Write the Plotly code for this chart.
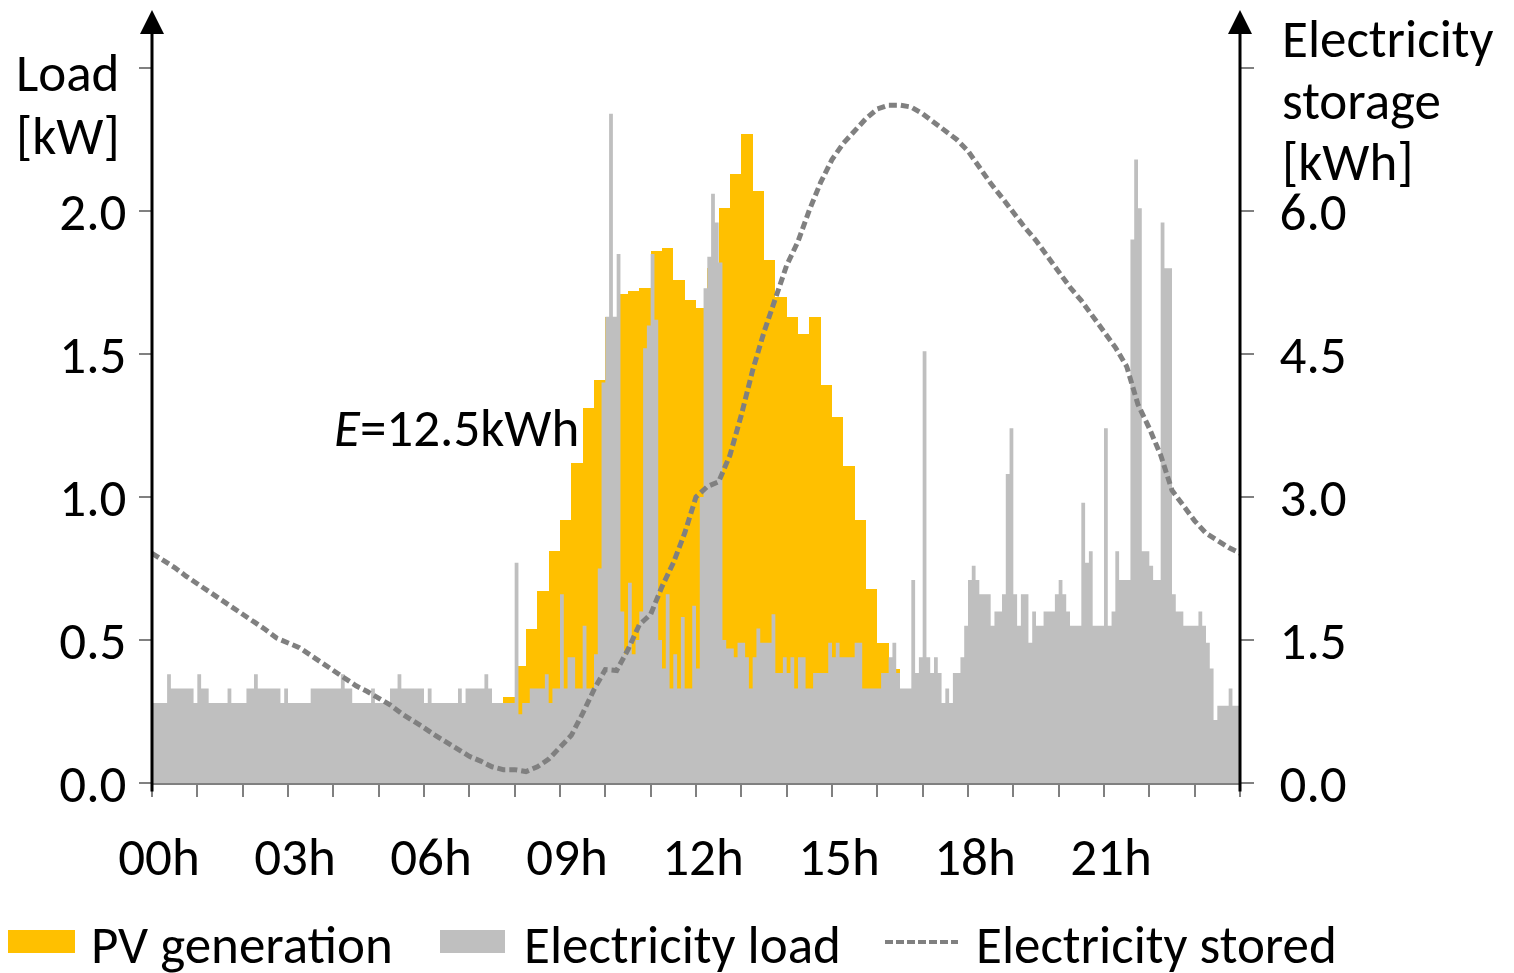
import numpy as np
import plotly.graph_objects as go

# ---------------- data ----------------
# PV generation [kW], 15-minute averages (96 values, 00:00-24:00)
pv_kw = [0.0] * 31 + [
    0.30, 0.41, 0.54, 0.67, 0.81, 0.92, 1.12, 1.31, 1.41,
    1.63, 1.71, 1.72, 1.73, 1.86, 1.87, 1.76, 1.69, 1.66, 1.80,
    2.01, 2.13, 2.27, 2.07, 1.83, 1.70, 1.63, 1.57, 1.63, 1.39,
    1.28, 1.11, 0.92, 0.68, 0.49, 0.40,
] + [0.0] * 30

# Electricity load [kW], 5-minute samples (289 values, 00:00-24:00)
load_kw = [
    0.28, 0.28, 0.28, 0.28, 0.38, 0.33, 0.33, 0.33, 0.33, 0.33, 0.33, 0.28,
    0.38, 0.33, 0.33, 0.28, 0.28, 0.28, 0.28, 0.28, 0.33, 0.28, 0.28, 0.28,
    0.28, 0.33, 0.33, 0.38, 0.33, 0.33, 0.33, 0.33, 0.33, 0.33, 0.28, 0.33,
    0.28, 0.28, 0.28, 0.28, 0.28, 0.28, 0.33, 0.33, 0.33, 0.33, 0.33, 0.33,
    0.33, 0.33, 0.38, 0.33, 0.33, 0.28, 0.28, 0.28, 0.28, 0.28, 0.33, 0.28,
    0.28, 0.28, 0.28, 0.33, 0.33, 0.38, 0.33, 0.33, 0.33, 0.33, 0.33, 0.33,
    0.28, 0.33, 0.28, 0.28, 0.28, 0.28, 0.28, 0.28, 0.28, 0.33, 0.28, 0.33,
    0.33, 0.33, 0.33, 0.33, 0.38, 0.33, 0.28, 0.28, 0.28, 0.28, 0.28, 0.28,
    0.77, 0.24, 0.28, 0.28, 0.33, 0.33, 0.33, 0.33, 0.38, 0.28, 0.33, 0.33,
    0.66, 0.33, 0.44, 0.44, 0.33, 0.33, 0.55, 0.33, 0.33, 0.45, 0.75, 1.40,
    1.63, 2.34, 1.63, 1.85, 0.60, 0.45, 0.70, 0.45, 0.50, 0.60, 1.52, 1.60,
    1.85, 1.62, 0.50, 0.40, 0.66, 0.33, 0.45, 0.33, 0.58, 0.33, 0.33, 0.62,
    0.40, 1.00, 1.73, 1.84, 2.06, 1.96, 1.82, 0.50, 0.47, 0.47, 0.44, 0.49,
    0.49, 0.44, 0.33, 0.44, 0.54, 0.49, 0.49, 0.49, 0.59, 0.385, 0.385, 0.44,
    0.385, 0.44, 0.33, 0.44, 0.44, 0.33, 0.33, 0.385, 0.385, 0.385, 0.385, 0.49,
    0.44, 0.49, 0.44, 0.44, 0.44, 0.44, 0.49, 0.49, 0.33, 0.33, 0.33, 0.33,
    0.33, 0.385, 0.385, 0.44, 0.49, 0.385, 0.33, 0.33, 0.33, 0.71, 0.385, 0.44,
    1.51, 0.44, 0.385, 0.44, 0.385, 0.28, 0.33, 0.28, 0.385, 0.385, 0.44, 0.55,
    0.71, 0.76, 0.71, 0.66, 0.66, 0.66, 0.55, 0.60, 0.60, 0.66, 1.08, 1.24,
    0.66, 0.55, 0.66, 0.66, 0.49, 0.60, 0.55, 0.55, 0.60, 0.60, 0.60, 0.66,
    0.71, 0.66, 0.60, 0.55, 0.55, 0.55, 0.98, 0.77, 0.81, 0.55, 0.55, 0.55,
    1.24, 0.55, 0.60, 0.81, 0.71, 0.71, 0.71, 1.90, 2.18, 2.01, 0.81, 0.81,
    0.76, 0.71, 0.71, 1.96, 1.80, 1.80, 0.66, 0.60, 0.60, 0.55, 0.55, 0.55,
    0.55, 0.60, 0.55, 0.49, 0.40, 0.22, 0.27, 0.27, 0.27, 0.33, 0.27, 0.27,
    0.33,
]

# Electricity stored [kWh], 15-minute samples (97 values, 00:00-24:00)
stored_kwh = [
    2.41, 2.34, 2.26, 2.17, 2.09, 2.01, 1.93, 1.86, 1.77, 1.69, 1.61, 1.52,
    1.47, 1.42, 1.34, 1.26, 1.19, 1.10, 1.02, 0.96, 0.89, 0.82, 0.73, 0.66,
    0.58, 0.50, 0.43, 0.36, 0.28, 0.23, 0.17, 0.14, 0.14, 0.12, 0.17, 0.25,
    0.37, 0.50, 0.73, 0.98, 1.19, 1.18, 1.40, 1.66, 1.77, 2.06, 2.31, 2.62,
    3.00, 3.11, 3.16, 3.44, 3.86, 4.33, 4.73, 5.09, 5.43, 5.68, 6.01, 6.30,
    6.54, 6.71, 6.85, 6.97, 7.07, 7.11, 7.11, 7.09, 7.02, 6.93, 6.84, 6.75,
    6.63, 6.45, 6.29, 6.14, 5.98, 5.83, 5.69, 5.52, 5.36, 5.20, 5.06, 4.90,
    4.75, 4.57, 4.37, 3.97, 3.72, 3.44, 3.07, 2.90, 2.75, 2.62, 2.54, 2.47,
    2.41,
]

hour_ticks = list(range(25))
hour_labels = ["00h", "03h", "06h", "09h", "12h", "15h", "18h", "21h"]
load_ticks = [0.0, 0.5, 1.0, 1.5, 2.0, 2.5]
load_tick_text = ["0.0", "0.5", "1.0", "1.5", "2.0", ""]
store_ticks = [0.0, 1.5, 3.0, 4.5, 6.0, 7.5]
store_tick_text = ["0.0", "1.5", "3.0", "4.5", "6.0", ""]
left_title = ["Load", "[kW]"]
right_title = ["Electricity", "storage", "[kWh]"]
energy_label = "<i>E</i>=12.5kWh"
legend_names = ["PV generation", "Electricity load", "Electricity stored"]

# ---------------- styling ----------------
FONT = "Carlito, Lato, sans-serif"
FS = 53
YELLOW = "#FFC000"
LGRAY = "#BFBFBF"
DGRAY = "#808080"

t_pv = (np.arange(len(pv_kw)) + 0.5) * 0.25
t_load = np.arange(len(load_kw)) * 5 / 60
t_store = np.arange(len(stored_kwh)) * 0.25

fig = go.Figure()
fig.add_trace(go.Bar(x=t_pv, y=pv_kw, width=0.25, marker=dict(color=YELLOW, line=dict(width=0)),
                     name=legend_names[0], showlegend=False))
fig.add_trace(go.Scatter(x=t_load, y=load_kw, mode="lines", line=dict(width=0, color=LGRAY, shape="hv"),
                         fill="tozeroy", fillcolor=LGRAY, name=legend_names[1], showlegend=False))
fig.add_trace(go.Scatter(x=t_store, y=stored_kwh, mode="lines", yaxis="y2",
                         line=dict(color=DGRAY, width=5, dash="8px,4px"),
                         name=legend_names[2], showlegend=False))

# figure size; page body adds an 8px offset, compensated in the margins
W, H = 1514, 973
OFF = 8
PL, PR, PT, PB = 152, 1240, 10, 783          # rendered plot rectangle (pixels)
L, R, T, B = PL - OFF, W + OFF - PR, PT - OFF, H + OFF - PB
plot_w = PR - PL
plot_h = PB - PT
ymax = plot_h / 286.0

xt_text = [hour_labels[h // 3] if (h % 3 == 0 and h < 24) else "" for h in hour_ticks]

fig.update_layout(
    width=W, height=H,
    margin=dict(l=L, r=R, t=T, b=B, pad=0, autoexpand=False),
    paper_bgcolor="white", plot_bgcolor="white",
    font=dict(family=FONT, size=FS, color="black"),
    bargap=0, showlegend=False,
    xaxis=dict(range=[0, 24], tickvals=hour_ticks, ticktext=xt_text, ticks="outside",
               ticklen=12, tickwidth=2, tickcolor=DGRAY, showline=True, linecolor=DGRAY,
               linewidth=2, showgrid=False, zeroline=False, ticklabelshift=7,
               ticklabelstandoff=14, tickfont=dict(size=FS)),
    yaxis=dict(range=[0, ymax], tickvals=load_ticks, ticktext=load_tick_text, ticks="outside",
               ticklen=12, tickwidth=2, tickcolor=DGRAY, showline=False, showgrid=False,
               zeroline=False, ticklabelstandoff=2, tickfont=dict(size=FS)),
    yaxis2=dict(range=[0, ymax * 3], overlaying="y", side="right", tickvals=store_ticks,
                ticktext=store_tick_text, ticks="outside",
                ticklen=13, tickwidth=2, tickcolor=DGRAY, showline=False, showgrid=False,
                zeroline=False, ticklabelstandoff=15, tickfont=dict(size=FS)),
)

def px_x(p):
    return (p - PL) / plot_w

def px_y(p):
    return (PB - p) / plot_h

ann = []
# axis arrows (black axis lines with arrowheads)
for xv in (0, 24):
    ann.append(dict(x=xv, y=1, xref="x", yref="paper", ax=0, ay=plot_h + 10, axref="pixel",
                    ayref="pixel", text="", showarrow=True, arrowhead=2, arrowsize=1.6,
                    arrowwidth=3, arrowcolor="black", standoff=0))

def label(xpx, ypx, txt):
    return dict(x=px_x(xpx), y=px_y(ypx), xref="paper", yref="paper", xanchor="left",
                yanchor="middle", align="left", showarrow=False, text=txt, font=dict(size=FS))

# axis titles, one line each
for txt, ypx in zip(left_title, (73, 136)):
    ann.append(label(14, ypx, txt))
for txt, ypx in zip(right_title, (39, 101, 162)):
    ann.append(label(1280, ypx, txt))
ann.append(label(332, 428, energy_label))

# manual legend
shapes = [
    dict(type="rect", xref="paper", yref="paper", x0=px_x(8), x1=px_x(75), y0=px_y(953),
         y1=px_y(930), fillcolor=YELLOW, line=dict(width=0)),
    dict(type="rect", xref="paper", yref="paper", x0=px_x(440), x1=px_x(505), y0=px_y(953),
         y1=px_y(930), fillcolor=LGRAY, line=dict(width=0)),
    dict(type="line", xref="paper", yref="paper", x0=px_x(885), x1=px_x(958), y0=px_y(942),
         y1=px_y(942), line=dict(color=DGRAY, width=4, dash="8px,3px")),
]
for xpx, txt in zip((89, 522, 974), legend_names):
    ann.append(label(xpx, 945, txt))

fig.update_layout(annotations=ann, shapes=shapes)
fig.write_html("out.html")
